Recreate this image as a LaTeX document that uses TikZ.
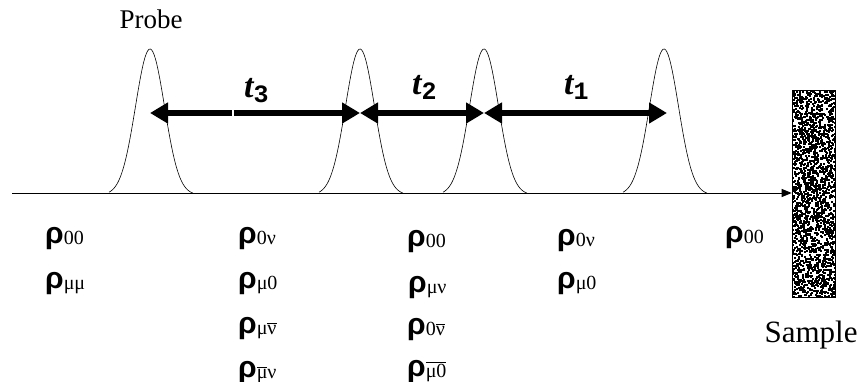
\documentclass[tikz,border=0pt]{standalone}
\usepackage{fontspec}
\setmainfont{Liberation Serif}
\newfontfamily\rhofont{Liberation Sans}
\newfontfamily\subfont{Liberation Mono}
\usetikzlibrary{arrows.meta,positioning,calc}

% rho with a subscript
\newcommand{\rh}[1]{{\rhofont\bfseries\fontsize{30}{30}\selectfont ρ}{\fontsize{20}{20}\selectfont\raisebox{-1pt}{#1}}}
\newcommand{\ovl}[1]{$\overline{\hbox{#1}}$}
% time delay label
\newcommand{\tdel}[1]{{\fontsize{34}{34}\selectfont\bfseries\itshape t}{\subfont\bfseries\fontsize{25}{25}\selectfont\raisebox{-5pt}{#1}}}

\begin{document}
\begin{tikzpicture}[
    x=1pt, y=-1pt,
    pulse/.style={line width=0.6pt},
    axis/.style={line width=0.9pt, -{Triangle[length=10pt, width=8pt]}},
    delay/.style={line width=6pt, {Triangle[length=18pt, width=20pt]}-{Triangle[length=18pt, width=20pt]}},
    rlab/.style={anchor=base west, inner sep=0pt},
    tlab/.style={anchor=base west, inner sep=0pt},
    samplebox/.style={draw, line width=0.6pt, minimum width=43pt, minimum height=207pt, inner sep=0pt,
        path picture={
            \pgfmathsetseed{11}
            \foreach \k in {1,...,2100}{
                \pgfmathsetmacro{\rx}{43*rnd}
                \pgfmathsetmacro{\ry}{207*rnd}
                \fill ($(path picture bounding box.north west)+(\rx,\ry)$) rectangle ++(2,2);
            }
        }}
]
    \useasboundingbox (0,0) rectangle (861,382);

    % Sample
    \node[samplebox] (sample) at (813.5,193.5) {};
    \node[anchor=base, inner sep=0pt, font=\fontsize{31}{31}\selectfont] (samplelab) at (811,342) {Sample};

    % Time axis
    \coordinate (start) at (12,193);
    \draw[axis] (start) -- (start -| sample.west);

    % Pulses
    \foreach \c/\n in {150/1, 360/2, 484/3, 664/4}{
        \draw[pulse] plot[domain=-41:43, samples=70, smooth]
            ({\c+\x}, {193-144*(exp(-\x*\x/(2*14.5*14.5))-0.013)/0.987});
        \coordinate (p\n) at (\c,113);
    }
    \coordinate (p4) at (667,113);
    \node[anchor=base, inner sep=0pt, font=\fontsize{27}{27}\selectfont] (probe) at (151,29) {Probe};

    % Delays
    \coordinate (m3) at (233,113);
    \draw[line width=6pt, {Triangle[length=18pt, width=20pt]}-] (p1) -- ([xshift=-0.7pt]m3);
    \draw[line width=6pt, -{Triangle[length=18pt, width=20pt]}] ([xshift=0.7pt]m3) -- (p2);
    \draw[delay] (p2) -- (p3);
    \draw[delay] (p3) -- (p4);
    \node[tlab] (t3) at (244,98) {\tdel{3}};
    \node[tlab] (t2) at (412,95) {\tdel{2}};
    \node[tlab] (t1) at (564,95) {\tdel{1}};

    % Density matrix elements
    \node[rlab] (a1) at (45,243) {\rh{00}};
    \node[rlab] (a2) at (45,288) {\rh{μμ}};

    \node[rlab] (b1) at (238,243) {\rh{0ν}};
    \node[rlab] (b2) at (238,288) {\rh{μ0}};
    \node[rlab] (b3) at (238,333) {\rh{μ\ovl{ν}}};
    \node[rlab] (b4) at (238,377) {\rh{\ovl{μ}ν}};

    \node[rlab] (c1) at (407,246) {\rh{00}};
    \node[rlab] (c2) at (408,292) {\rh{μν}};
    \node[rlab] (c3) at (407,334) {\rh{0\ovl{ν}}};
    \node[rlab] (c4) at (407,376) {\rh{\ovl{μ0}}};

    \node[rlab] (d1) at (557,245) {\rh{0ν}};
    \node[rlab] (d2) at (557,288) {\rh{μ0}};

    \node[rlab] (e1) at (725,242) {\rh{00}};
\end{tikzpicture}
\end{document}
